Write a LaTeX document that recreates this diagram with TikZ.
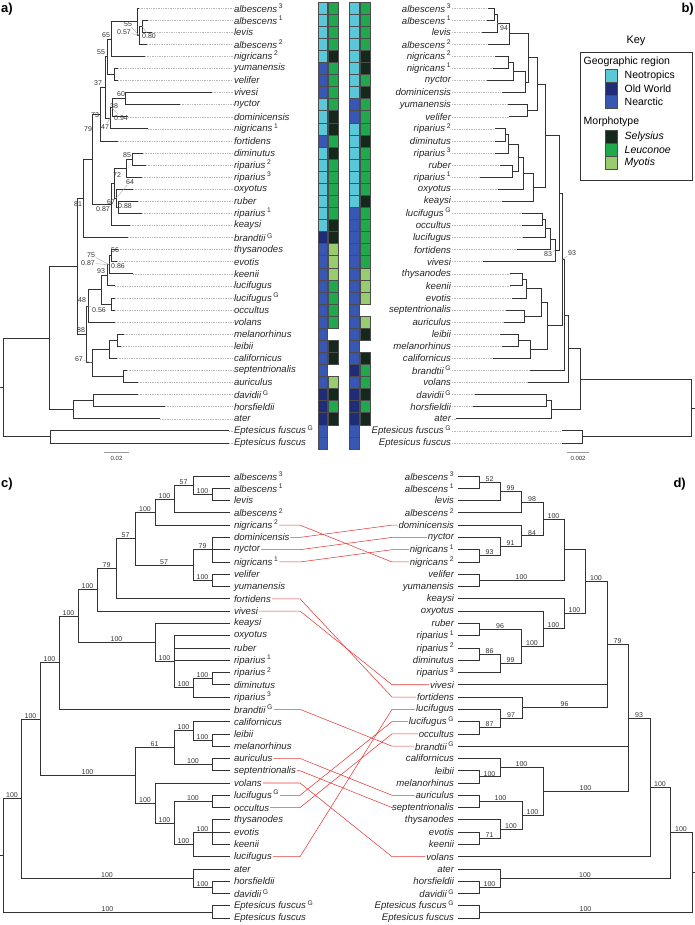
\documentclass[tikz,border=0pt]{standalone}
\usepackage{fontspec}
\setmainfont{Liberation Sans}
\usetikzlibrary{calc}
\definecolor{cneo}{HTML}{5BC8D9}
\definecolor{cold}{HTML}{202C75}
\definecolor{cnea}{HTML}{3757B3}
\definecolor{csel}{HTML}{14291B}
\definecolor{cleu}{HTML}{1FA84C}
\definecolor{cmyo}{HTML}{98CC6F}
\definecolor{linkred}{HTML}{E53B3B}
\newcommand{\taxfont}{\fontsize{9.6}{10}\selectfont\itshape}
\newcommand{\supfont}{\fontsize{7}{8}\selectfont}
\newcommand{\keyfont}{\fontsize{10.5}{12}\selectfont}
\newcommand{\spx}[1]{\,\textsuperscript{\upshape #1}}

\begin{document}
\begin{tikzpicture}[x=1pt,y=-1pt,
  treeline/.style={line width=0.75pt, black!80, line cap=rect},
  dashline/.style={gray!55, line width=0.4pt, dash pattern=on 1.4pt off 1pt},
  taxon/.style={font=\taxfont, inner sep=0.8pt, text=black!85},
  support/.style={font=\supfont, inner sep=0.6pt, text=black!80},
  pointer/.style={gray!75, line width=0.35pt},
  cell/.style={draw=black!70, line width=0.4pt, minimum width=9.6pt, minimum height=12.08pt, inner sep=0pt, outer sep=0pt},
  cellN/.style={fill=cneo}, cellO/.style={fill=cold}, cellA/.style={fill=cnea},
  cellS/.style={fill=csel}, cellL/.style={fill=cleu}, cellM/.style={fill=cmyo},
  cellX/.style={draw=none},
  swatch/.style={draw=black!70, line width=0.4pt, minimum width=12pt, minimum height=12.8pt, inner sep=0pt},
  keytext/.style={font=\keyfont, inner sep=0.5pt},
  link/.style={linkred, line width=0.55pt},
  scalebar/.style={gray!80, line width=0.6pt},
  panel/.style={font=\fontsize{13}{14}\selectfont\bfseries, inner sep=0pt}]
\useasboundingbox (0,0) rectangle (695,925);

% panel letters
\node[panel, anchor=north west] (pa) at (1,3) {a)};
\node[panel, anchor=north east] (pb) at (694,3) {b)};
\node[panel, anchor=north west] (pc) at (1,478) {c)};
\node[panel, anchor=north east] (pd) at (686,478) {d)};

%% ---------------- panel a ----------------
\begin{scope}[shift={(0pt,-8pt)}, y=-12.08pt]
  \foreach \r/\n/\tx/\t in {0/alb3/139/{albescens\spx{3}}, 1/alb1/148/{albescens\spx{1}},
      2/levis/152/levis, 3/alb2/147/{albescens\spx{2}}, 4/nig2/145/{nigricans\spx{2}},
      5/yum/118/yumanensis, 6/vel/118/velifer, 7/viv/212/vivesi, 8/nyc/180/nyctor,
      9/dom/128/dominicensis, 10/nig1/148/{nigricans\spx{1}}, 11/fort/118/fortidens,
      12/dim/143/diminutus, 13/rip2/146/{riparius\spx{2}}, 14/rip3/142/{riparius\spx{3}},
      15/oxy/133/oxyotus, 16/rub/138/ruber, 17/rip1/142/{riparius\spx{1}}, 18/kea/130/keaysi,
      19/bra/128/{brandtii\spx{G}}, 20/thy/118/thysanodes, 21/evo/117/evotis, 22/kee/133/keenii,
      23/luc/115/lucifugus, 24/lucG/115/{lucifugus\spx{G}}, 25/occ/115/occultus, 26/vol/115/volans,
      27/mel/124/melanorhinus, 28/lei/121/leibii, 29/cal/117/californicus,
      30/sep/127/septentrionalis, 31/aur/138/auriculus, 32/dav/138/{davidii\spx{G}},
      33/hor/165/horsfieldii, 34/ate/160/ater, 35/eptG/229/{Eptesicus fuscus\spx{G}},
      36/ept/229/{Eptesicus fuscus}} {
    \coordinate (a-\n) at (\tx,\r);
    \node[taxon, anchor=west] (la-\n) at (233,\r) {\t};
    \draw[dashline] (a-\n) -- (la-\n.west);
  }
  \foreach \n/\x/\r in {nlv/142/1.5, n3/139/2.25, n2/137/1.125, n65/111/2.5625, nyv/114/5.5,
      n55/107/4.03, n60/125/7.5, n38/112/8.25, n47/110/9.125, n37/105/6.58, n73/100/8.79,
      n85/132/12.5, nr3/126/13.25, nrr/118/16.5, n64/116/15.75, nx/114/14.5, n67/111/16.25,
      n79/92/12.52, n81/83/15.76, n56/111/20.5, n75/109/21.25, n93/107/22.125, nlo/111/24.5,
      ncx/101/23.31, n48/88/24.66, nml/117/27.5, nmlc/109/28.25, nsa/123/30.5, n67b/92/29.375,
      n88/86/27.02, ntop/77/21.39, ndh/93/32.5, now/73/33.25, ning/49/27.32, nep/50/35.5,
      nroot/3.5/31.41}
    \coordinate (a-\n) at (\x,\r);
  \foreach \p/\c in {n2/alb3, n2/n3, n3/nlv, n3/alb2, nlv/alb1, nlv/levis, n65/n2, n65/nig2,
      nyv/yum, nyv/vel, n55/n65, n55/nyv, n60/viv, n60/nyc, n38/n60, n38/dom, n47/n38, n47/nig1,
      n37/n55, n37/n47, n73/n37, n73/fort, n85/dim, n85/rip2, nr3/n85, nr3/rip3, nrr/rub, nrr/rip1,
      n64/oxy, n64/nrr, nx/nr3, nx/n64, n67/nx, n67/kea, n79/n73, n79/n67, n81/n79, n81/bra,
      n56/thy, n56/evo, n75/n56, n75/kee, n93/n75, n93/luc, nlo/lucG, nlo/occ, ncx/n93, ncx/nlo,
      n48/ncx, n48/vol, nml/mel, nml/lei, nmlc/nml, nmlc/cal, nsa/sep, nsa/aur, n67b/nmlc,
      n67b/nsa, n88/n48, n88/n67b, ntop/n81, ntop/n88, ndh/dav, ndh/hor, now/ndh, now/ate,
      ning/ntop, ning/now, nep/eptG, nep/ept, nroot/ning, nroot/nep}
    \draw[treeline] (a-\p) |- (a-\c);
  \draw[treeline] (a-nroot) -- ++(-3.5,0);
  % character columns
  \foreach \c [count=\r from 0] in {N,N,N,N,N,A,A,A,N,N,N,A,N,N,N,N,N,N,N,O,A,A,A,A,A,A,A,A,A,A,A,A,O,O,O,A,A}
    \node[cell, cell\c] (ga\r) at (322.8,\r) {};
  \foreach \c [count=\r from 0] in {L,L,L,L,S,L,L,L,L,S,S,L,S,L,L,L,L,L,S,S,M,M,M,L,L,L,L,X,S,S,X,M,S,L,S,X,X}
    \node[cell, cell\c] (ma\r) at (333,\r) {};
  \foreach \c [count=\r from 0] in {N,N,N,N,N,N,N,N,A,A,N,N,N,N,N,N,N,A,A,A,A,A,A,A,A,A,A,A,A,A,O,A,O,O,O,A,A}
    \node[cell, cell\c] (gb\r) at (354.4,\r) {};
  \foreach \c [count=\r from 0] in {L,L,L,L,S,S,L,S,L,L,L,S,L,L,L,L,S,L,L,L,L,L,M,M,M,X,M,S,X,S,L,L,S,L,S,X,X}
    \node[cell, cell\c] (mb\r) at (365,\r) {};
\end{scope}

% support values, panel a
\foreach \i/\x/\y/\v in {1/128/24/55, 2/124/32/0.57, 3/149/36/0.80, 4/106/35/65, 5/101/52/55,
    6/98/83/37, 7/121/94/60, 8/114/106/38, 9/121/118/0.94, 10/105/127/47, 11/95/115/73,
    12/88/129/79, 13/127/155/85, 14/117/175/72, 15/130/182/64, 16/111/202/67, 17/103/209/0.87,
    18/125/206/0.88, 19/78/204/81, 20/115/250/56, 21/91/255/75, 22/88/263/0.87, 23/118/266/0.86,
    24/101/271/93, 25/82/300/48, 26/99/310/0.56, 27/81/330/88, 28/79/359/67}
  \node[support] (sa\i) at (\x,\y) {\v};
\foreach \i/\t in {1/n3, 2/n3, 3/nlv, 9/n38, 10/n47, 15/n64, 18/nrr, 21/n75, 22/n75, 26/n48, 28/n67b}
  \draw[pointer] (sa\i) -- (a-\t);
\draw[scalebar] (104,452) -- (129,452) node[midway, below=1pt, font=\fontsize{6}{7}\selectfont, text=black!80] (sba) {0.02};

%% ---------------- panel b ----------------
\begin{scope}[shift={(0pt,-8pt)}, y=-12.08pt]
  \foreach \r/\n/\tx/\t in {0/alb3/488/{albescens\spx{3}}, 1/alb1/487/{albescens\spx{1}},
      2/levis/482/levis, 3/alb2/488/{albescens\spx{2}}, 4/nig2/495/{nigricans\spx{2}},
      5/nig1/493/{nigricans\spx{1}}, 6/nyc/487/nyctor, 7/dom/502/dominicensis,
      8/yum/508/yumanensis, 9/vel/509/velifer, 10/rip2/495/{riparius\spx{2}},
      11/dim/495/diminutus, 12/rip3/495/{riparius\spx{3}}, 13/rub/500/ruber,
      14/rip1/480/{riparius\spx{1}}, 15/oxy/498/oxyotus, 16/kea/502/keaysi,
      17/lucG/522/{lucifugus\spx{G}}, 18/occ/522/occultus, 19/luc/523/lucifugus,
      20/fort/517/fortidens, 21/viv/483/vivesi, 22/thy/510/thysanodes, 23/kee/510/keenii,
      24/evo/512/evotis, 25/sep/506/septentrionalis, 26/aur/504/auriculus, 27/lei/500/leibii,
      28/mel/502/melanorhinus, 29/cal/493/californicus, 30/bra/530/{brandtii\spx{G}},
      31/vol/528/volans, 32/dav/475/{davidii\spx{G}}, 33/hor/473/horsfieldii, 34/ate/456/ater,
      35/eptG/562/{Eptesicus fuscus\spx{G}}, 36/ept/562/{Eptesicus fuscus}} {
    \coordinate (b-\n) at (\tx,\r);
    \node[taxon, anchor=east] (lb-\n) at (452,\r) {\t};
    \draw[dashline] (lb-\n.east) -- (b-\n);
  }
  \foreach \n/\x/\r in {p1/494/0.5, p2/497/1.25, p3/509/2.125, p4/508/4.5, p5/513/5.25,
      p6/525/6.125, p7/528/4.125, p8/527/8.5, p9/537/6.31, p10/505/10.5, p11/508/11.25,
      p12/512/13.5, p13/518/12.375, p14/523/13.69, p15/533/14.84, p16/545/10.58, p17/542/17.5,
      p18/545/18.25, p19/550/19.125, p20/555/20.06, p21/559/15.32, p22/522/22.5, p23/526/23.25,
      p24/524/25.5, p25/541/24.375, p26/518/27.5, p27/530/28.25, p28/547/26.31, p29/562/20.82,
      p30/564/25.41, p31/568/28.2, p32/546/32.5, p33/551/33.25, p34/580/30.73, p35/582/35.5,
      p36/691/33.11}
    \coordinate (b-\n) at (\x,\r);
  \foreach \p/\c in {p1/alb3, p1/alb1, p2/p1, p2/levis, p3/p2, p3/alb2, p4/nig2, p4/nig1,
      p5/p4, p5/nyc, p6/p5, p6/dom, p7/p3, p7/p6, p8/yum, p8/vel, p9/p7, p9/p8, p10/rip2,
      p10/dim, p11/p10, p11/rip3, p12/rub, p12/rip1, p13/p11, p13/p12, p14/p13, p14/oxy,
      p15/p14, p15/kea, p16/p9, p16/p15, p17/lucG, p17/occ, p18/p17, p18/luc, p19/p18, p19/fort,
      p20/p19, p20/viv, p21/p16, p21/p20, p22/thy, p22/kee, p23/p22, p23/evo, p24/sep, p24/aur,
      p25/p23, p25/p24, p26/lei, p26/mel, p27/p26, p27/cal, p28/p25, p28/p27, p29/p21, p29/p28,
      p30/p29, p30/bra, p31/p30, p31/vol, p32/dav, p32/hor, p33/p32, p33/ate, p34/p31, p34/p33,
      p35/eptG, p35/ept, p36/p34, p36/p35}
    \draw[treeline] (b-\p) |- (b-\c);
  \draw[treeline] (b-p36) -- ++(4,0);
\end{scope}
\foreach \i/\x/\y/\v/\t in {1/504/28/94/p2, 2/548/254/83/p20, 3/572/253/93/p29} {
  \node[support] (sb\i) at (\x,\y) {\v};
  \draw[pointer] (sb\i) -- (b-\t);
}
\draw[scalebar] (567,452) -- (589,452) node[midway, below=1pt, font=\fontsize{6}{7}\selectfont, text=black!80] (sbb) {0.002};

% key
\node[keytext, font=\fontsize{11}{12}\selectfont] (ktitle) at (636,41) {Key};
\draw[black!80, line width=0.5pt] (580,52) rectangle (692,180);
\node[keytext, anchor=west] (kgeo) at (583,62) {Geographic region};
\foreach \c/\y/\t in {cneo/76/Neotropics, cold/89/Old World, cnea/102/Nearctic} {
  \node[swatch, fill=\c] (ks-\c) at (611,\y) {};
  \node[keytext, anchor=west] (kt-\c) at (624,\y) {\t};
}
\node[keytext, anchor=west] (kmor) at (583,122) {Morphotype};
\foreach \c/\y/\t in {csel/137/Selysius, cleu/150/Leuconoe, cmyo/163/Myotis} {
  \node[swatch, fill=\c] (ks-\c) at (611,\y) {};
  \node[keytext, anchor=west, font=\keyfont\itshape] (kt-\c) at (624,\y) {\t};
}

%% ---------------- panel c ----------------
\begin{scope}[shift={(0pt,-476pt)}, y=-12.28pt]
  \foreach \r/\n/\t in {0/alb3/{albescens\spx{3}}, 1/alb1/{albescens\spx{1}}, 2/levis/levis,
      3/alb2/{albescens\spx{2}}, 4/nig2/{nigricans\spx{2}}, 5/dom/dominicensis, 6/nyc/nyctor,
      7/nig1/{nigricans\spx{1}}, 8/vel/velifer, 9/yum/yumanensis, 10/fort/fortidens,
      11/viv/vivesi, 12/kea/keaysi, 13/oxy/oxyotus, 14/rub/ruber, 15/rip1/{riparius\spx{1}},
      16/rip2/{riparius\spx{2}}, 17/dim/diminutus, 18/rip3/{riparius\spx{3}},
      19/bra/{brandtii\spx{G}}, 20/cal/californicus, 21/lei/leibii, 22/mel/melanorhinus,
      23/aur/auriculus, 24/sep/septentrionalis, 25/vol/volans, 26/lucG/{lucifugus\spx{G}},
      27/occ/occultus, 28/thy/thysanodes, 29/evo/evotis, 30/kee/keenii, 31/luc/lucifugus,
      32/ate/ater, 33/hor/horsfieldii, 34/dav/{davidii\spx{G}},
      35/eptG/{Eptesicus fuscus\spx{G}}, 36/ept/{Eptesicus fuscus}} {
    \coordinate (c-\n) at (230,\r);
    \node[taxon, anchor=west] (lc-\n) at (233,\r) {\t};
  }
  \foreach \n/\x/\r in {n1/212/1.5, n2/193/0.75, n3/174/1.875, n4/155/2.9375, n5/212/6,
      n6/212/8.5, n7/193/7.25, n8/135/5.09, n9/116/7.55, n10/97/9.27, n11/212/16.5,
      n12/193/17.25, n13/174/15.125, n14/155/13.56, n15/78/11.42, n16/59/15.21, n17/212/21.5,
      n18/193/20.75, n19/212/23.5, n20/174/22.125, n21/212/26.5, n22/212/29, n23/193/30,
      n24/174/28.25, n25/155/26.625, n26/135/24.375, n27/40/19.79, n28/212/33.5, n29/193/32.75,
      n30/21/26.27, n31/212/35.5, n32/3/30.89}
    \coordinate (c-\n) at (\x,\r);
  \foreach \p/\c in {n1/alb1, n1/levis, n2/alb3, n2/n1, n3/n2, n3/alb2, n4/n3, n4/nig2,
      n5/dom, n5/nyc, n5/nig1, n6/vel, n6/yum, n7/n5, n7/n6, n8/n4, n8/n7, n9/n8, n9/fort,
      n10/n9, n10/viv, n11/rip2, n11/dim, n12/n11, n12/rip3, n13/oxy, n13/rub, n13/rip1,
      n13/n12, n14/kea, n14/n13, n15/n10, n15/n14, n16/n15, n16/bra, n17/lei, n17/mel,
      n18/cal, n18/n17, n19/aur, n19/sep, n20/n18, n20/n19, n21/lucG, n21/occ, n22/thy,
      n22/evo, n22/kee, n23/n22, n23/luc, n24/n21, n24/n23, n25/vol, n25/n24, n26/n20,
      n26/n25, n27/n16, n27/n26, n28/hor, n28/dav, n29/ate, n29/n28, n30/n27, n30/n29,
      n31/eptG, n31/ept, n32/n30, n32/n31}
    \draw[treeline] (c-\p) |- (c-\c);
  \draw[treeline] (c-n32) -- ++(-3,0);
  \foreach \p/\c/\l in {n2/n1/100, n3/n2/57, n4/n3/100, n8/n4/100, n7/n5/79, n7/n6/100,
      n8/n7/57, n9/n8/57, n10/n9/79, n15/n10/100, n12/n11/100, n13/n12/100, n14/n13/100,
      n15/n14/100, n16/n15/100, n27/n16/100, n18/n17/100, n20/n18/100, n20/n19/100,
      n26/n20/61, n24/n21/100, n23/n22/100, n24/n23/100, n25/n24/100, n26/n25/100,
      n27/n26/100, n30/n27/100, n29/n28/100, n30/n29/100, n32/n30/100, n32/n31/100}
    \node[support, anchor=south] (sc-\c) at ($(c-\p |- c-\c)!.5!(c-\c)$) {\l};
\end{scope}

%% ---------------- panel d ----------------
\begin{scope}[shift={(0pt,-476pt)}, y=-12.28pt]
  \foreach \r/\n/\t in {0/alb3/{albescens\spx{3}}, 1/alb1/{albescens\spx{1}}, 2/levis/levis,
      3/alb2/{albescens\spx{2}}, 4/dom/dominicensis, 5/nyc/nyctor, 6/nig1/{nigricans\spx{1}},
      7/nig2/{nigricans\spx{2}}, 8/vel/velifer, 9/yum/yumanensis, 10/kea/keaysi,
      11/oxy/oxyotus, 12/rub/ruber, 13/rip1/{riparius\spx{1}}, 14/rip2/{riparius\spx{2}},
      15/dim/diminutus, 16/rip3/{riparius\spx{3}}, 17/viv/vivesi, 18/fort/fortidens,
      19/luc/lucifugus, 20/lucG/{lucifugus\spx{G}}, 21/occ/occultus, 22/bra/{brandtii\spx{G}},
      23/cal/californicus, 24/lei/leibii, 25/mel/melanorhinus, 26/aur/auriculus,
      27/sep/septentrionalis, 28/thy/thysanodes, 29/evo/evotis, 30/kee/keenii, 31/vol/volans,
      32/ate/ater, 33/hor/horsfieldii, 34/dav/{davidii\spx{G}},
      35/eptG/{Eptesicus fuscus\spx{G}}, 36/ept/{Eptesicus fuscus}} {
    \coordinate (d-\n) at (458,\r);
    \node[taxon, anchor=east] (ld-\n) at (455,\r) {\t};
  }
  \foreach \n/\x/\r in {n1/479/0.5, n2/500/1.25, n3/521/2.125, n4/479/6.5, n5/500/5.75,
      n6/521/4.875, n7/543/3.5, n8/479/8.5, n9/564/6, n10/479/12.5, n11/479/14.5,
      n12/500/15.25, n13/521/13.875, n14/543/12.44, n15/564/11.22, n16/585/8.61,
      n17/607/13.74, n18/479/20.5, n19/500/19.75, n20/522/18.875, n21/628/19.71,
      n22/479/24.5, n23/500/23.75, n24/479/26.5, n25/479/29.5, n26/500/28.75, n27/522/27.625,
      n28/543/25.69, n29/650/25.36, n30/500/32.75, n31/479/33.5, n32/670/29.05, n33/479/35.5,
      n34/692/32.28}
    \coordinate (d-\n) at (\x,\r);
  \foreach \p/\c in {n1/alb3, n1/alb1, n2/n1, n2/levis, n3/n2, n3/alb2, n4/nig1, n4/nig2,
      n5/nyc, n5/n4, n6/dom, n6/n5, n7/n3, n7/n6, n8/vel, n8/yum, n9/n7, n9/n8, n10/rub,
      n10/rip1, n11/rip2, n11/dim, n12/n11, n12/rip3, n13/n10, n13/n12, n14/oxy, n14/n13,
      n15/kea, n15/n14, n16/n9, n16/n15, n17/n16, n17/viv, n17/n20, n18/lucG, n18/occ,
      n19/luc, n19/n18, n20/fort, n20/n19, n21/n17, n21/bra, n21/n28, n22/lei, n22/mel,
      n23/cal, n23/n22, n24/aur, n24/sep, n25/evo, n25/kee, n26/thy, n26/n25, n27/n24,
      n27/n26, n28/n23, n28/n27, n29/n21, n29/vol, n30/ate, n30/n31, n31/hor, n31/dav,
      n32/n29, n32/n30, n33/eptG, n33/ept, n34/n32, n34/n33}
    \draw[treeline] (d-\p) |- (d-\c);
  \draw[treeline] (d-n34) -- ++(3,0);
  \foreach \p/\c/\l in {n2/n1/52, n3/n2/99, n7/n3/98, n5/n4/93, n6/n5/91, n7/n6/84,
      n9/n7/100, n9/n8/100, n13/n10/96, n12/n11/86, n13/n12/99, n14/n13/100, n15/n14/100,
      n16/n15/100, n17/n16/100, n21/n17/79, n19/n18/87, n20/n19/97, n17/n20/96, n29/n21/93,
      n23/n22/100, n28/n23/100, n27/n24/100, n26/n25/71, n27/n26/100, n28/n27/100,
      n21/n28/100, n32/n29/100, n32/n30/100, n30/n31/100, n34/n32/100, n34/n33/100}
    \node[support, anchor=south] (sd-\c) at ($(d-\p |- d-\c)!.5!(d-\c)$) {\l};
\end{scope}

% links between c and d
\coordinate (kc) at (300,0);
\coordinate (kd) at (392,0);
\foreach \n in {nig2, dom, nyc, nig1, fort, viv, bra, aur, sep, vol, lucG, occ, luc}
  \draw[link] (lc-\n.east) -- (lc-\n.east -| kc) -- (ld-\n.west -| kd) -- (ld-\n.west);
\end{tikzpicture}
\end{document}
